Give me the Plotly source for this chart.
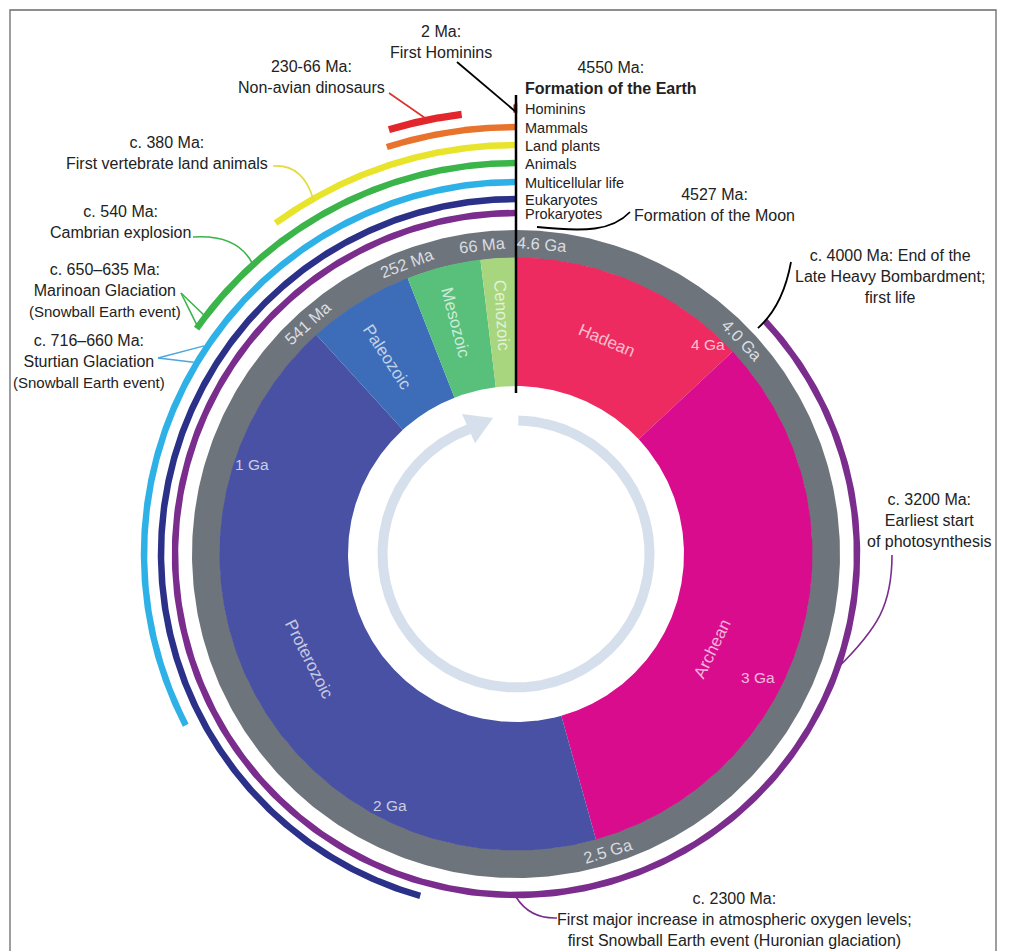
import numpy as np
import plotly.graph_objects as go

# ---------------- data ----------------
TOTAL_MA = 4600

era_names = ["Hadean", "Archean", "Proterozoic", "Paleozoic", "Mesozoic", "Cenozoic"]
era_start_ma = [4600, 4000, 2500, 541, 274, 88]
era_end_ma = [4000, 2500, 541, 274, 88, 0]
era_colors = ["#ee2b60", "#d80c8c", "#4851a3", "#3d6db8", "#58c07b", "#a7d67e"]

life_names = ["Prokaryotes", "Eukaryotes", "Multicellular life", "Animals",
              "Land plants", "Mammals", "Hominins"]
life_start_ma = [4000, 2100, 1500, 700, 460, 225, 2]
life_end_ma = [0, 0, 0, 0, 0, 0, 0]
life_colors = ["#7b2d8e", "#2b3088", "#2eb1e6", "#3bb54a", "#e8e42c", "#e8732c", "#7a1818"]

dino_ma = [213, 90]
dino_color = "#e3262b"

ring_labels = ["4.6 Ga", "4.0 Ga", "2.5 Ga", "541 Ma", "252 Ma", "66 Ma"]
ring_label_ma = [4600, 4000, 2500, 541, 252, 66]

scale_labels = ["4 Ga", "3 Ga", "2 Ga", "1 Ga"]
scale_label_ma = [4000, 3000, 2000, 1000]

# event markers (Ma)
event_land_animals = 380
event_cambrian = 540
event_marinoan = [696, 672]
event_sturtian = [757, 719]
event_lhb = 4000
event_photosynthesis = 3200
event_oxygen = 2300
event_hominin = 2

# ---------------- geometry / style ----------------
W, H = 1017, 951
CX, CY = 516, 554
R_IN, R_ERA, R_GRAY = 168, 296, 324
life_radius = [341, 355, 372, 391, 409, 427, 446]
ARC_W = 6.5
DINO_R = 443
GRAY = "#6e747b"
FONT = "Liberation Sans, Arial, sans-serif"
TXT = "#222222"


def ang_ma(ma):
    return (TOTAL_MA - np.asarray(ma, dtype=float)) / TOTAL_MA * 360.0


def pt_deg(deg, r):
    a = np.radians(deg)
    return CX + r * np.sin(a), CY - r * np.cos(a)


def pt(ma, r):
    return pt_deg(ang_ma(ma), r)


def sector(d0, d1, r0, r1, n=240):
    t = np.linspace(d0, d1, n)
    xo, yo = pt_deg(t, r1)
    xi, yi = pt_deg(t[::-1], r0)
    return np.concatenate([xo, xi, xo[:1]]), np.concatenate([yo, yi, yo[:1]])


fig = go.Figure()


def add_fill(x, y, color, lw=0):
    fig.add_trace(go.Scatter(x=x, y=y, mode="lines", fill="toself", fillcolor=color,
                             line=dict(width=lw, color=color), hoverinfo="skip",
                             showlegend=False))


# gray outer ring
x, y = sector(0, 360, R_ERA, R_GRAY, 600)
add_fill(x, y, GRAY)

# eras
for s, e, c in zip(era_start_ma, era_end_ma, era_colors):
    x, y = sector(ang_ma(s), ang_ma(e), R_IN, R_ERA + 0.5)
    add_fill(x, y, c)

# life arcs
for name, s, e, c, r in zip(life_names, life_start_ma, life_end_ma, life_colors, life_radius):
    if name == "Hominins":
        x, y = sector(ang_ma(s), ang_ma(e), r - 3.5, r + 3.5, 10)
        add_fill(x, y, c, lw=2.5)
    else:
        x, y = sector(ang_ma(s), ang_ma(e), r - ARC_W / 2, r + ARC_W / 2, 400)
        add_fill(x, y, c)

# dinosaurs arc
x, y = sector(ang_ma(dino_ma[0]), ang_ma(dino_ma[1]), DINO_R - 3.6, DINO_R + 3.6, 80)
add_fill(x, y, dino_color)

# inner circular arrow
ARROW_C = "#d6e0ec"
x, y = sector(1.0, 339.5, 128.5, 138.5, 400)
add_fill(x, y, ARROW_C)
ax_, ay_ = pt_deg(np.array([338.9, 339.7, 350.4]), np.array([150, 118, 138]))
add_fill(np.append(ax_, ax_[0]), np.append(ay_, ay_[0]), ARROW_C)

shapes = []
annotations = []

# frame
shapes.append(dict(type="rect", xref="x", yref="y", x0=10, y0=10, x1=996, y1=970,
                   line=dict(color="#6a6a6a", width=1.3)))

# vertical line at present / 4.6 Ga
x0, y0 = pt(0, 161)
x1, y1 = pt(0, 459)
shapes.append(dict(type="line", x0=x0, y0=y0, x1=x1, y1=y1, line=dict(color="black", width=2.5)))


def line_shape(p0, p1, color, width=1.5):
    shapes.append(dict(type="line", x0=p0[0], y0=p0[1], x1=p1[0], y1=p1[1],
                       line=dict(color=color, width=width)))


def path_shape(path, color, width=1.5):
    shapes.append(dict(type="path", path=path, line=dict(color=color, width=width)))


def f(p):
    return f"{p[0]:.1f},{p[1]:.1f}"


# leader lines
line_shape((457, 62), pt(event_hominin, life_radius[-1] - 3), "black", 1.8)
line_shape((389, 93), pt(np.mean(dino_ma), DINO_R + 3), "#d8342c", 1.6)
e = pt(event_land_animals, life_radius[4])
path_shape(f"M 273,166 Q 303,164 {f(e)}", "#e2dc3a", 1.6)
e = pt(event_cambrian, life_radius[3])
path_shape(f"M 193,237 Q 238,234 {f(e)}", "#3bb54a", 1.6)
for m in event_marinoan:
    line_shape((181, 293), pt(m, life_radius[3]), "#3bb54a", 1.6)
for m in event_sturtian:
    line_shape((158, 358), pt(m, life_radius[2] + 3), "#4aa6dc", 1.3)
path_shape("M 537,227 C 585,232 612,231 630,212", "black", 1.8)
e = pt(event_lhb, R_GRAY + 7)
path_shape(f"M 791,262 Q 783,306 {f(e)}", "black", 1.8)
e = pt(event_photosynthesis, life_radius[0])
path_shape(f"M 892,555 C 892,605 878,628 {f(e)}", "#7b2d8e", 1.6)
s = pt(event_oxygen, life_radius[0] + 2)
path_shape(f"M {f(s)} Q {s[0]+14:.1f},919 557,918", "#7b2d8e", 1.6)


def text(x, y, t, size=16, color=TXT, angle=0, xanchor="center"):
    annotations.append(dict(x=x, y=y, text=t, showarrow=False, xanchor=xanchor,
                            yanchor="middle", textangle=angle,
                            font=dict(family=FONT, size=size, color=color)))


# life labels at top
for name, r in zip(life_names, life_radius):
    text(523, CY - r + 1, name, 14.5, xanchor="left")

# ring labels (gray ring)
ring_offsets = [4.8, -0.4, -1.5, 0.3, -0.8, -1.0]
for lab, m, off in zip(ring_labels, ring_label_ma, ring_offsets):
    d = float(ang_ma(m)) % 360 + off
    px, py = pt_deg(d, 311)
    ta = d if (d < 90 or d > 270) else d - 180
    if ta > 180:
        ta -= 360
    text(px, py, lab, 16.5, "#d9dde2", ta)

# scale labels inside ring
scale_offsets = [-4.4, -8.1, 3.2, 6.9]
scale_r = [284, 272, 281, 279]
for lab, m, off, r in zip(scale_labels, scale_label_ma, scale_offsets, scale_r):
    px, py = pt_deg(float(ang_ma(m)) + off, r)
    text(px, py, lab, 15.5, "rgba(255,255,255,0.72)")

# era labels
era_offsets = [-0.5, 10.3, 2.0, -1.3, -0.6, 0.0]
era_r = [232, 218, 232, 235, 239, 239]
era_radial = [False, False, False, True, True, True]
for name, s, e_, off, r, rad in zip(era_names, era_start_ma, era_end_ma, era_offsets, era_r, era_radial):
    d = float(ang_ma((s + e_) / 2)) + off
    px, py = pt_deg(d, r)
    if rad:
        ta = d + 90 - 360
    else:
        ta = d if (d < 90 or d > 270) else d - 180
    text(px, py, name, 17, "rgba(255,255,255,0.7)", ta)

# event annotations
SB = "<span style='font-size:15px'>(Snowball Earth event)</span>"
text(441, 42, "2 Ma:<br>First Hominins")
text(311, 76.5, "230-66 Ma:<br>Non-avian dinosaurs")
text(167, 152.5, "c. 380 Ma:<br>First vertebrate land animals")
text(120, 221.5, "c. 540 Ma:<br>Cambrian explosion")
text(105, 290, "c. 650–635 Ma:<br>Marinoan Glaciation<br>" + SB)
text(89, 361, "c. 716–660 Ma:<br>Sturtian Glaciation<br>" + SB)
text(611, 77.5, "4550 Ma:<br><b>Formation of the Earth</b>")
text(714, 204.5, "4527 Ma:<br>Formation of the Moon")
text(890, 276.5, "c. 4000 Ma: End of the<br>Late Heavy Bombardment;<br>first life")
text(929, 520, "c. 3200 Ma:<br>Earliest start<br>of photosynthesis")
text(734, 919.5, "c. 2300 Ma:<br>First major increase in atmospheric oxygen levels;<br>first Snowball Earth event (Huronian glaciation)")

fig.update_layout(
    width=W, height=H,
    margin=dict(l=0, r=0, t=0, b=0),
    paper_bgcolor="white", plot_bgcolor="white",
    xaxis=dict(range=[0, W], visible=False, fixedrange=True),
    yaxis=dict(range=[H, 0], visible=False, fixedrange=True),
    showlegend=False, hovermode=False,
    shapes=shapes, annotations=annotations,
)

fig.write_html("out.html", config={"displayModeBar": False},
               post_script="document.body.style.margin='0';")
